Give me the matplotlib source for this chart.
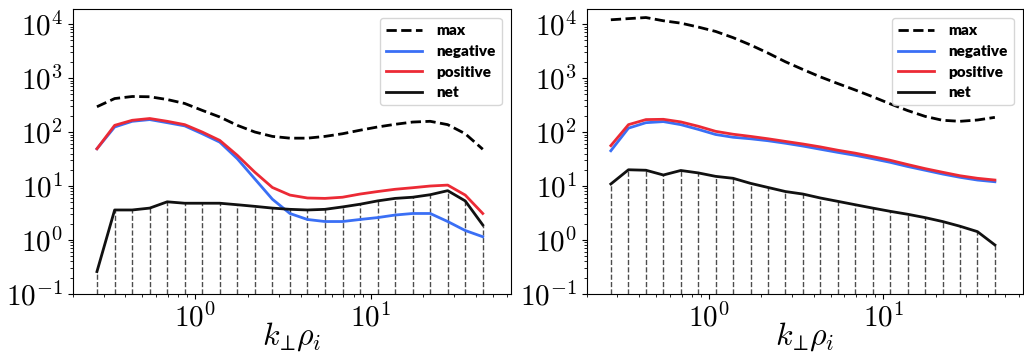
import numpy as np
import matplotlib
matplotlib.use("Agg")
import matplotlib.pyplot as plt
from matplotlib.ticker import FuncFormatter, LogLocator

plt.rcParams['mathtext.fontset'] = 'cm'

# k_perp rho_i grid
k = [0.275, 0.347, 0.437, 0.550, 0.692, 0.871, 1.096, 1.380, 1.738, 2.188, 2.754, 3.467,
     4.365, 5.495, 6.918, 8.710, 10.96, 13.80, 17.38, 21.88, 27.54, 34.67, 43.65]

# left panel
max_l = [294, 417, 455, 450, 400, 338, 252, 190, 133, 100, 83, 77, 77, 83, 93, 108, 124,
         139, 153, 158, 137, 93, 48]
pos_l = [49, 133, 165, 178, 158, 137, 100, 70, 37, 18, 9.4, 6.8, 6.0, 5.9, 6.2, 7.1, 7.9,
         8.7, 9.3, 10.0, 10.4, 6.8, 3.1]
neg_l = [49, 124, 158, 170, 149, 130, 93, 65, 32, 13.5, 5.7, 3.1, 2.4, 2.2, 2.2, 2.4, 2.6,
         2.9, 3.1, 3.1, 2.2, 1.5, 1.15]
net_l = [0.26, 3.6, 3.6, 3.9, 5.1, 4.8, 4.8, 4.8, 4.5, 4.2, 3.9, 3.7, 3.6, 3.7, 4.1, 4.6,
         5.3, 5.9, 6.2, 6.9, 8.2, 5.3, 1.9]

# right panel
max_r = [12000, 12600, 13200, 11500, 10400, 8800, 7300, 5600, 4100, 2900, 2000, 1440, 1050,
         790, 600, 450, 333, 250, 195, 165, 158, 167, 187]
pos_r = [56, 137, 170, 172, 154, 128, 103, 91, 83, 75, 67, 60, 53, 46, 40.6, 35, 30, 25,
         21, 18, 15.5, 13.9, 12.9]
neg_r = [45, 118, 149, 156, 137, 112, 90, 80, 75, 69, 62, 55, 48, 42, 37, 32, 27.5, 23,
         19.6, 16.7, 14.5, 12.9, 12.0]
net_r = [10.9, 20, 19.6, 16, 19.4, 17.5, 15.1, 13.9, 11.2, 9.4, 7.9, 7.1, 6.0, 5.2, 4.5,
         3.9, 3.4, 3.0, 2.6, 2.2, 1.8, 1.43, 0.81]

fig = plt.figure(figsize=(10.24, 3.58), dpi=100)
ax1 = fig.add_axes([72.7 / 1024, 64 / 358, 438 / 1024, 285 / 358])
ax2 = fig.add_axes([586.7 / 1024, 64 / 358, 436 / 1024, 285 / 358])

ymin = 1e-1
fmt = FuncFormatter(lambda v, p: r'$10^{%d}$' % round(np.log10(v)))

for ax, mx, neg, pos, net in [(ax1, max_l, neg_l, pos_l, net_l),
                              (ax2, max_r, neg_r, pos_r, net_r)]:
    ax.vlines(k, ymin, net, colors='0.3', linestyles='--', lw=1)
    ax.plot(k, mx, '--', color='black', lw=2, label='max')
    ax.plot(k, neg, color='#3a6ff5', lw=2, label='negative')
    ax.plot(k, pos, color='#ec2a35', lw=2, label='positive')
    ax.plot(k, net, color='#111111', lw=2, label='net')
    ax.set_xscale('log')
    ax.set_yscale('log')
    ax.set_xlim(0.2, 63)
    ax.set_ylim(ymin, 1.9e4)
    ax.yaxis.set_major_locator(LogLocator(base=10, numticks=10))
    ax.yaxis.set_minor_locator(LogLocator(base=10, subs=np.arange(2, 10), numticks=20))
    ax.xaxis.set_major_formatter(fmt)
    ax.yaxis.set_major_formatter(fmt)
    ax.tick_params(labelsize=21)
    ax.set_xlabel(r'$k_{\!\perp}\!\rho_i$', fontsize=23, labelpad=-9)
    ax.legend(loc='upper right', prop={'family': 'Lato', 'weight': 'heavy', 'size': 11},
              handlelength=2.4, handletextpad=0.9, borderaxespad=0.6, labelspacing=0.5)

fig.savefig('out.png', dpi=100)
